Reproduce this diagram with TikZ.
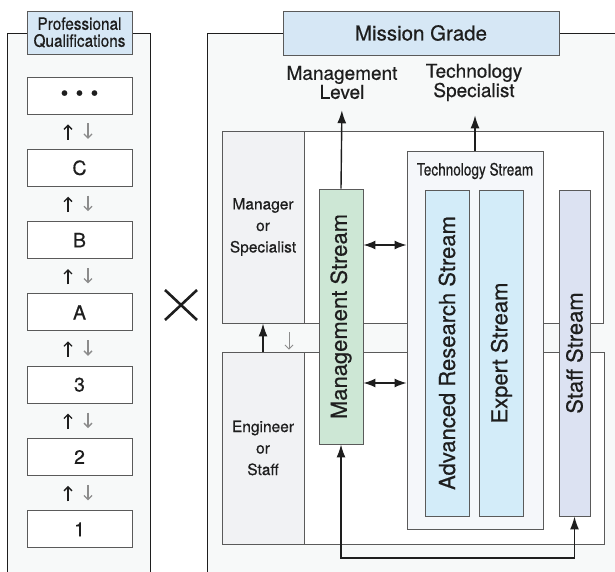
\documentclass[tikz,border=0pt]{standalone}
\usepackage{fontspec}
\setmainfont{TeX Gyre Heros}[FakeBold=0.5]
\newfontfamily\narrowfont{TeX Gyre Heros}[FakeStretch=0.8, FakeBold=0.5]
\newfontfamily\pqfont{TeX Gyre Heros}[FakeStretch=0.9, FakeBold=0.5]
\usepackage{xcolor}
\usetikzlibrary{arrows.meta,calc}
\definecolor{panelbg}{HTML}{F7F9F9}
\definecolor{hdrblue}{HTML}{D6E7F5}
\definecolor{lvlgray}{HTML}{F1F2F4}
\definecolor{mgmtgreen}{HTML}{CDE7D5}
\definecolor{techbg}{HTML}{F5F7FA}
\definecolor{techblue}{HTML}{D3ECF9}
\definecolor{staffblue}{HTML}{DCE2F2}
\definecolor{edge}{HTML}{5A5A5A}
\definecolor{ink}{HTML}{1E1E1E}
\tikzset{
	frame/.style={draw=ink, line width=0.9pt},
	blk/.style={draw=edge, line width=0.9pt, inner sep=1pt, align=center, text=ink},
	hdr/.style={blk, fill=hdrblue},
	grade/.style={blk, fill=white, minimum width=105pt, minimum height=37pt,
		font=\fontsize{19.5}{22}\selectfont},
	band/.style={blk, fill=white, minimum height=192pt},
	lvl/.style={blk, fill=lvlgray, minimum width=82pt, minimum height=192pt,
		font=\fontsize{15.5}{21.5}\selectfont},
	strm/.style={blk, minimum width=44pt, minimum height=326pt,
		font=\fontsize{22}{22}\selectfont},
	ttl/.style={inner sep=1pt, align=center, text=ink,
		font=\fontsize{19}{15}\selectfont},
	arr/.style={draw=ink, line width=1.4pt, ->},
	dbl/.style={draw=ink, line width=1.4pt, {Latex[length=12pt,width=9pt]}-{Latex[length=12pt,width=9pt]}},
	upa/.style={draw=ink, line width=1.3pt, -{Straight Barb[length=4pt,width=8pt]},
		shorten <=9pt, shorten >=10pt},
	dna/.style={upa, draw=black!45},
}

\begin{document}
\begin{tikzpicture}[x=1pt, y=1pt, >={Latex[length=13pt,width=9pt]}]
	\useasboundingbox (0,0) rectangle (615,571);
	% panels
	\fill[panelbg] (7,-5) rectangle (150,538);
	\draw[frame] (7,-5) -- (7,538) -- (150,538) -- (150,-5);
	\fill[panelbg] (207,-5) rectangle (620,538);
	\draw[frame] (207,-5) -- (207,538) -- (620,538);
	% professional qualifications
	\node[hdr, minimum width=105pt, minimum height=43pt, font=\pqfont\fontsize{17}{17}\selectfont] at (79.5,538.5) (pq) {Professional\\Qualifications};
	\node[grade, font=\fontsize{22}{22}\selectfont] at (79.5,475.5) (q0) {\textbullet\hspace{7.3pt}\textbullet\hspace{7.3pt}\textbullet};
	\node[grade] at (79.5,403.2) (q1) {C};
	\node[grade] at (79.5,330.9) (q2) {B};
	\node[grade] at (79.5,258.6) (q3) {A};
	\node[grade] at (79.5,186.3) (q4) {3};
	\node[grade] at (79.5,114.0) (q5) {2};
	\node[grade] at (79.5,41.7) (q6) {1};
	\draw[upa] ([xshift=-11.5pt]q1.north) -- ([xshift=-11.5pt]q0.south);
	\draw[dna] ([xshift=8.5pt]q0.south) -- ([xshift=8.5pt]q1.north);
	\draw[upa] ([xshift=-11.5pt]q2.north) -- ([xshift=-11.5pt]q1.south);
	\draw[dna] ([xshift=8.5pt]q1.south) -- ([xshift=8.5pt]q2.north);
	\draw[upa] ([xshift=-11.5pt]q3.north) -- ([xshift=-11.5pt]q2.south);
	\draw[dna] ([xshift=8.5pt]q2.south) -- ([xshift=8.5pt]q3.north);
	\draw[upa] ([xshift=-11.5pt]q4.north) -- ([xshift=-11.5pt]q3.south);
	\draw[dna] ([xshift=8.5pt]q3.south) -- ([xshift=8.5pt]q4.north);
	\draw[upa] ([xshift=-11.5pt]q5.north) -- ([xshift=-11.5pt]q4.south);
	\draw[dna] ([xshift=8.5pt]q4.south) -- ([xshift=8.5pt]q5.north);
	\draw[upa] ([xshift=-11.5pt]q6.north) -- ([xshift=-11.5pt]q5.south);
	\draw[dna] ([xshift=8.5pt]q5.south) -- ([xshift=8.5pt]q6.north);
	% times sign
	\draw[ink, line width=2.6pt] (165,281) -- (197,251) (165,251) -- (197,281);
	% mission grade
	\node[hdr, minimum width=276pt, minimum height=44pt, font=\fontsize{20.5}{24}\selectfont] at (421,538) (mission) {Mission Grade};
	\node[ttl] at (342,488.5) (mlev) {Management\\Level};
	\node[ttl] at (474,488.5) (tspec) {Technology\\Specialist};
	% level bands
	\node[band, minimum width=381pt] at (412.5,344) (upband) {};
	\node[band, minimum width=382pt] at (413,123) (lowband) {};
	\node[lvl] at (263,344) (mgr) {Manager\\or\\Specialist};
	\node[lvl] at (263,123) (eng) {Engineer\\or\\Staff};
	% streams
	\node[strm, fill=mgmtgreen, minimum height=255pt] at (341,254.5) (mgmt) {\rotatebox{90}{Management Stream}};
	\node[blk, fill=techbg, minimum width=136pt, minimum height=378pt] at (475,231) (tech) {};
	\node[inner sep=1pt, text=ink, font=\narrowfont\fontsize{17}{17}\selectfont] at (475,400) (techttl) {Technology Stream};
	\node[strm, fill=techblue] at (447,218) (adv) {\rotatebox{90}{Advanced Research Stream}};
	\node[strm, fill=techblue] at (501.5,218) (expert) {\rotatebox{90}{Expert Stream}};
	\node[strm, fill=staffblue, minimum width=31pt] at (574.5,218) (staff) {\rotatebox{90}{Staff Stream}};
	% connectors
	\draw[arr, shorten >=10pt] (mgmt.north) -- (mlev.south);
	\draw[arr, shorten >=13pt] (tech.north) -- (tech.north |- tspec.south);
	\draw[dbl] (mgmt.east |- 0,326) -- (tech.west |- 0,326);
	\draw[dbl] (mgmt.east |- 0,188) -- (tech.west |- 0,188);
	\draw[arr] (eng.north) -- (mgr.south);
	\draw[dna, line width=0.9pt, shorten >=2pt] ([xshift=26pt]mgr.south) -- ([xshift=26pt]eng.north);
	\coordinate (retn) at (458,13);
	\draw[arr, <->] (mgmt.south) |- (retn) -| (staff.south);
\end{tikzpicture}
\end{document}
